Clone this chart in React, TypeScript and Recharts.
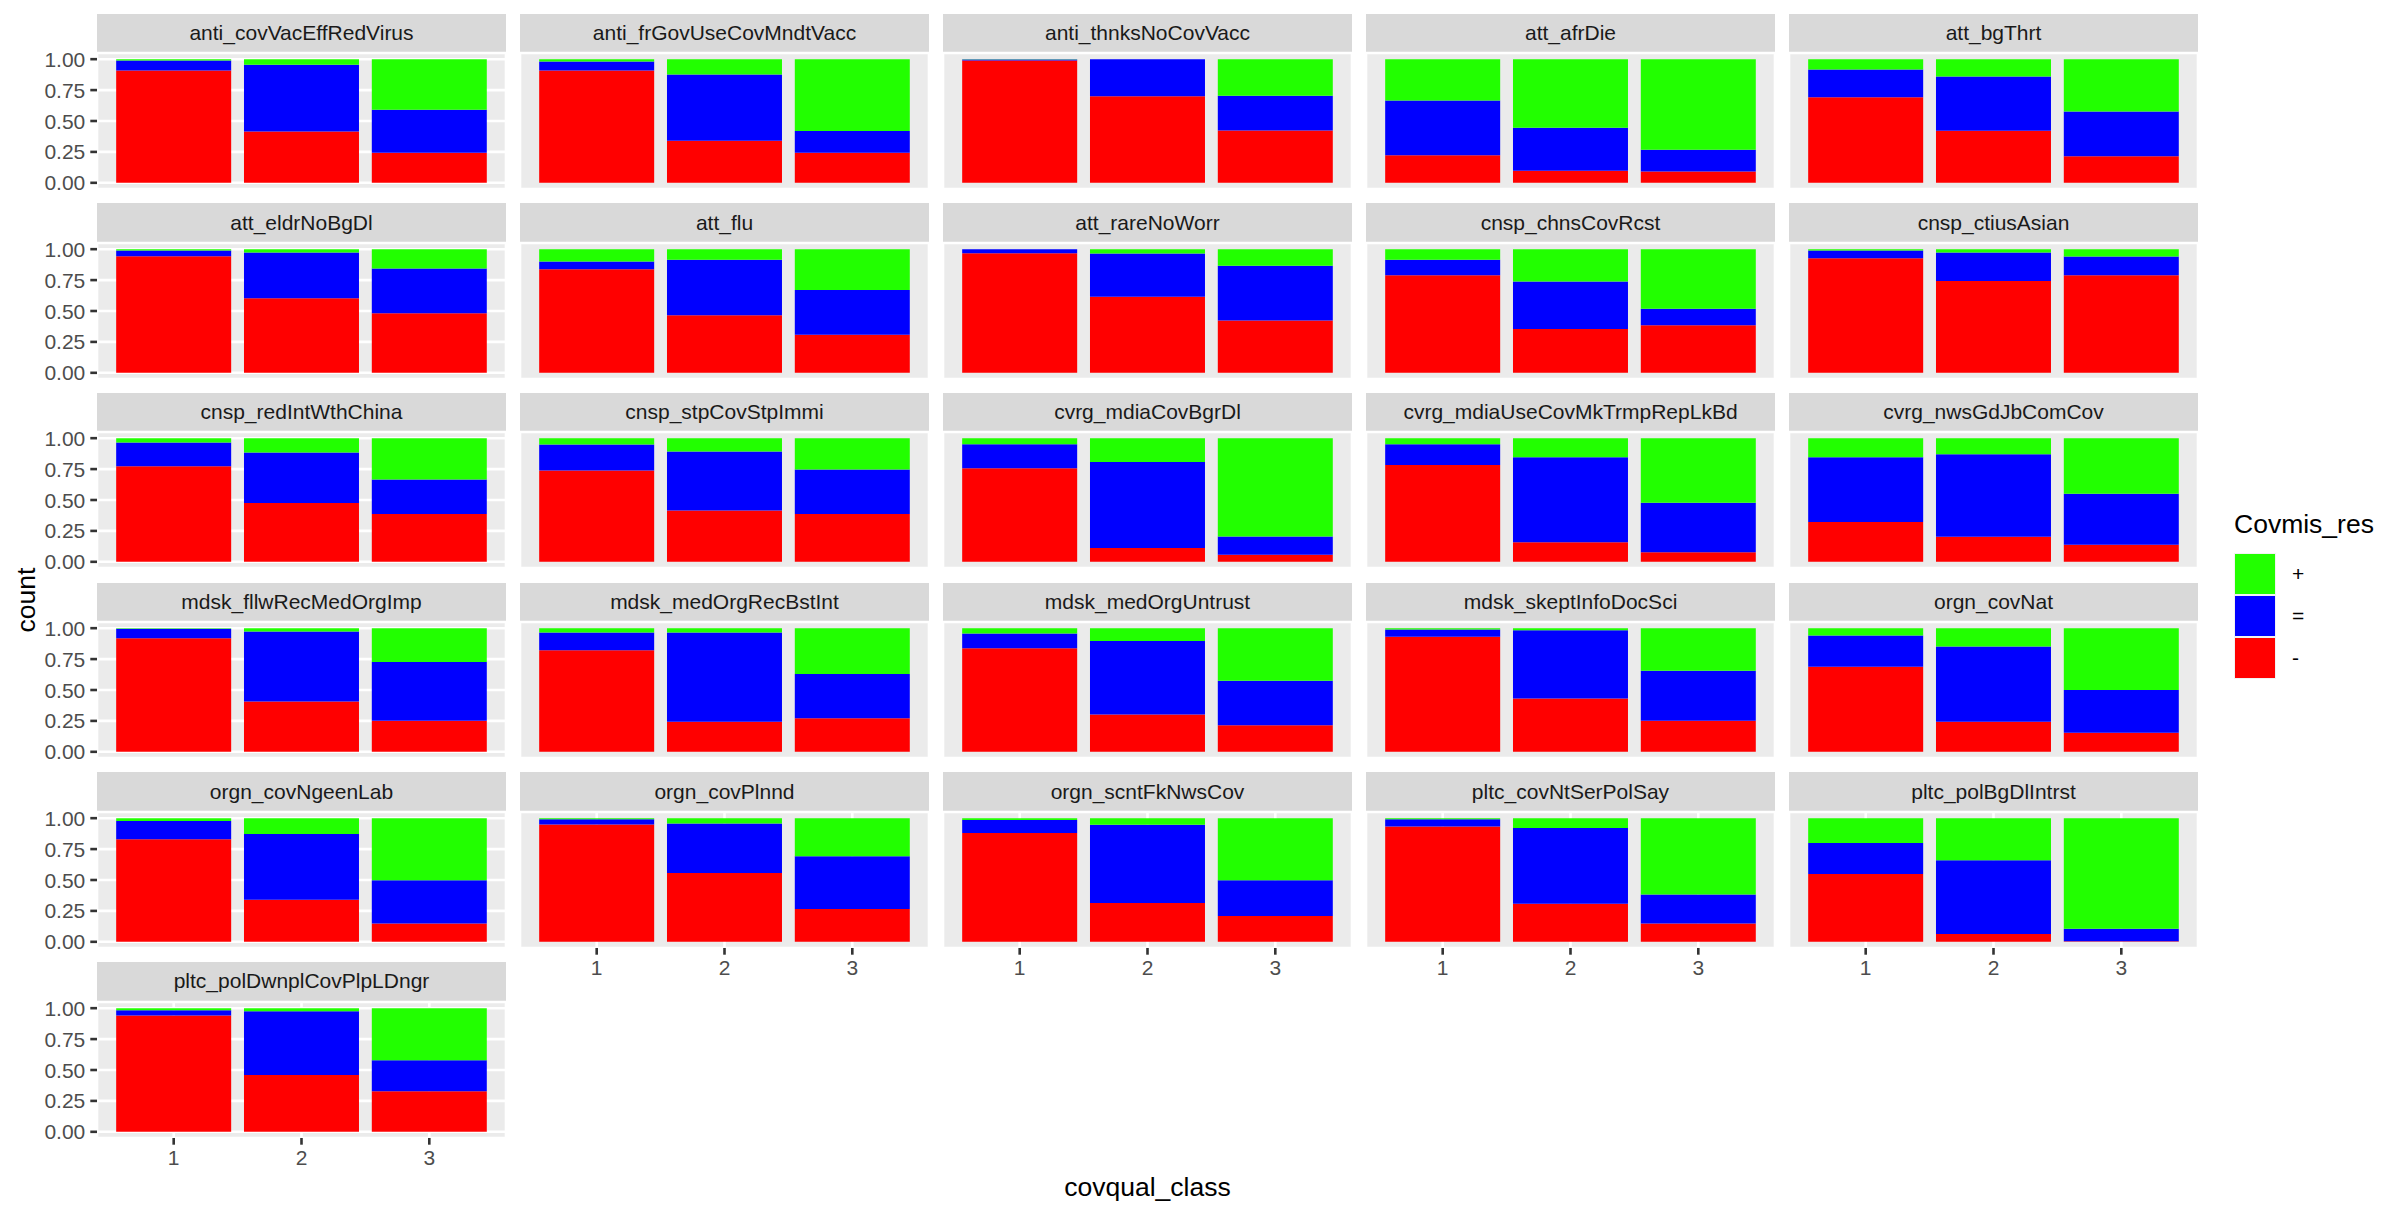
import React from "react";
import { BarChart, Bar, XAxis, YAxis, CartesianGrid } from "recharts";

// facet names, in facet_wrap order (5 columns)
const PANELS = [
  "anti_covVacEffRedVirus",
  "anti_frGovUseCovMndtVacc",
  "anti_thnksNoCovVacc",
  "att_afrDie",
  "att_bgThrt",
  "att_eldrNoBgDl",
  "att_flu",
  "att_rareNoWorr",
  "cnsp_chnsCovRcst",
  "cnsp_ctiusAsian",
  "cnsp_redIntWthChina",
  "cnsp_stpCovStpImmi",
  "cvrg_mdiaCovBgrDl",
  "cvrg_mdiaUseCovMkTrmpRepLkBd",
  "cvrg_nwsGdJbComCov",
  "mdsk_fllwRecMedOrgImp",
  "mdsk_medOrgRecBstInt",
  "mdsk_medOrgUntrust",
  "mdsk_skeptInfoDocSci",
  "orgn_covNat",
  "orgn_covNgeenLab",
  "orgn_covPlnnd",
  "orgn_scntFkNwsCov",
  "pltc_covNtSerPolSay",
  "pltc_polBgDlIntrst",
  "pltc_polDwnplCovPlpLDngr",
];

const CLASSES = ["1", "2", "3"];

// share of "-" per class 1,2,3
const MINUS = [
  [0.908, 0.416, 0.243],
  [0.908, 0.341, 0.243],
  [0.989, 0.7, 0.424],
  [0.222, 0.097, 0.092],
  [0.692, 0.422, 0.214],
  [0.943, 0.603, 0.481],
  [0.838, 0.465, 0.308],
  [0.968, 0.616, 0.424],
  [0.789, 0.354, 0.384],
  [0.927, 0.743, 0.789],
  [0.773, 0.476, 0.386],
  [0.738, 0.416, 0.386],
  [0.757, 0.111, 0.057],
  [0.784, 0.159, 0.078],
  [0.322, 0.203, 0.138],
  [0.919, 0.406, 0.252],
  [0.821, 0.244, 0.271],
  [0.837, 0.301, 0.214],
  [0.93, 0.431, 0.252],
  [0.688, 0.244, 0.154],
  [0.829, 0.34, 0.149],
  [0.948, 0.557, 0.266],
  [0.88, 0.313, 0.209],
  [0.932, 0.307, 0.149],
  [0.549, 0.063, 0.004],
  [0.94, 0.459, 0.329],
];

// share of "="
const EQUAL = [
  [0.081, 0.538, 0.349],
  [0.073, 0.535, 0.176],
  [0.008, 0.3, 0.281],
  [0.443, 0.349, 0.176],
  [0.224, 0.437, 0.362],
  [0.046, 0.37, 0.362],
  [0.062, 0.449, 0.362],
  [0.032, 0.349, 0.441],
  [0.125, 0.384, 0.135],
  [0.062, 0.23, 0.152],
  [0.192, 0.408, 0.279],
  [0.211, 0.476, 0.36],
  [0.194, 0.697, 0.148],
  [0.167, 0.687, 0.4],
  [0.524, 0.667, 0.413],
  [0.076, 0.567, 0.474],
  [0.144, 0.721, 0.358],
  [0.12, 0.596, 0.361],
  [0.059, 0.553, 0.404],
  [0.252, 0.607, 0.347],
  [0.149, 0.532, 0.348],
  [0.044, 0.4, 0.427],
  [0.106, 0.633, 0.288],
  [0.06, 0.614, 0.234],
  [0.25, 0.597, 0.102],
  [0.044, 0.517, 0.25],
];

// share of "+"
const PLUS = [
  [0.011, 0.046, 0.408],
  [0.019, 0.124, 0.581],
  [0.003, 0.0, 0.295],
  [0.335, 0.554, 0.732],
  [0.084, 0.141, 0.424],
  [0.011, 0.027, 0.157],
  [0.1, 0.086, 0.33],
  [0.0, 0.035, 0.135],
  [0.086, 0.262, 0.481],
  [0.011, 0.027, 0.059],
  [0.035, 0.116, 0.335],
  [0.051, 0.108, 0.254],
  [0.049, 0.192, 0.795],
  [0.049, 0.154, 0.522],
  [0.154, 0.13, 0.449],
  [0.005, 0.027, 0.274],
  [0.035, 0.035, 0.371],
  [0.043, 0.103, 0.425],
  [0.011, 0.016, 0.344],
  [0.06, 0.149, 0.499],
  [0.022, 0.128, 0.503],
  [0.008, 0.043, 0.307],
  [0.014, 0.054, 0.503],
  [0.008, 0.079, 0.617],
  [0.201, 0.34, 0.894],
  [0.016, 0.024, 0.421],
];

const Y_TICKS = [0, 0.25, 0.5, 0.75, 1];
const Y_MINOR = [0.125, 0.375, 0.625, 0.875];

// stacking order bottom -> top
const SERIES_KEYS = ["minus", "equal", "plus"];
const SERIES_LABELS: Record<string, string> = { minus: "-", equal: "=", plus: "+" };
const COLORS: Record<string, string> = { minus: "#FF0000", equal: "#0000FF", plus: "#22FF00" };

const FONT = '"Liberation Sans", Arial, Helvetica, sans-serif';
const NCOL = 5;
const LEFT0 = 97;
const PANEL_W = 409;
const COL_STEP = 423;
const TOP0 = 53;
const PANEL_H = 136;
const ROW_STEP = 189.7;
const STRIP_H = 39.5;
const YAXIS_W = 96;
const XAXIS_H = 40;
const VPAD = 12; // room so edge tick labels are not clipped by the svg
const XPAD = PANEL_W / 32; // ggplot discrete expansion: 0.6 units each side

// plain svg tick labels (no width-constrained Text)
function YTick(props: any) {
  const { x, y, payload } = props;
  return (
    <text x={x} y={y} textAnchor="end" dominantBaseline="central" fill="#4D4D4D" fontSize={21}>
      {Number(payload.value).toFixed(2)}
    </text>
  );
}

function XTick(props: any) {
  const { x, y, payload } = props;
  return (
    <text x={x} y={y} textAnchor="middle" dominantBaseline="hanging" fill="#4D4D4D" fontSize={21}>
      {payload.value}
    </text>
  );
}

function Panel({ idx }: { idx: number }) {
  const col = idx % NCOL;
  const row = Math.floor(idx / NCOL);
  const lastRow = Math.floor((PANELS.length - 1) / NCOL);
  const showY = col === 0;
  const showX = row === lastRow || (row === lastRow - 1 && col > (PANELS.length - 1) % NCOL);
  const left = LEFT0 + col * COL_STEP;
  const top = TOP0 + row * ROW_STEP;
  const yw = showY ? YAXIS_W : 0;
  const xh = showX ? XAXIS_H : 0;
  const bottomPad = showX ? 0 : VPAD;
  const data = CLASSES.map((c, i) => ({
    cls: c,
    minus: MINUS[idx][i],
    equal: EQUAL[idx][i],
    plus: PLUS[idx][i],
  }));

  return (
    <>
      <div
        style={{
          position: "absolute",
          left,
          top: top - STRIP_H,
          width: PANEL_W,
          height: STRIP_H - 0.8,
          background: "#D9D9D9",
          color: "#1A1A1A",
          fontSize: 21,
          display: "flex",
          alignItems: "center",
          justifyContent: "center",
        }}
      >
        {PANELS[idx]}
      </div>
      <div style={{ position: "absolute", left: left - yw, top: top - VPAD }}>
        <BarChart
          width={PANEL_W + yw}
          height={PANEL_H + VPAD + bottomPad + xh}
          data={data}
          margin={{ top: VPAD, right: 0, bottom: bottomPad, left: 0 }}
          barCategoryGap="5%"
        >
          <CartesianGrid yAxisId="minor" fill="#EBEBEB" fillOpacity={1} stroke="#FFFFFF" strokeWidth={1.3} vertical={false} />
          <CartesianGrid stroke="#FFFFFF" strokeWidth={2.6} />
          <XAxis
            dataKey="cls"
            interval={0}
            padding={{ left: XPAD, right: XPAD }}
            height={xh}
            axisLine={false}
            tick={showX ? <XTick /> : false}
            tickLine={showX ? { stroke: "#333333", strokeWidth: 2.6 } : false}
            tickSize={6.7}
            tickMargin={5}
          />
          <YAxis
            type="number"
            domain={[-0.05, 1.05]}
            allowDataOverflow
            ticks={Y_TICKS}
            interval={0}
            width={yw}
            axisLine={false}
            tick={showY ? <YTick /> : false}
            tickLine={showY ? { stroke: "#333333", strokeWidth: 2.6 } : false}
            tickSize={6.7}
            tickMargin={5}
          />
          <YAxis
            yAxisId="minor"
            type="number"
            domain={[-0.05, 1.05]}
            allowDataOverflow
            ticks={Y_MINOR}
            interval={0}
            width={0}
            axisLine={false}
            tick={false}
            tickLine={false}
          />
          {SERIES_KEYS.map((k) => (
            <Bar key={k} dataKey={k} stackId="s" fill={COLORS[k]} isAnimationActive={false} />
          ))}
        </BarChart>
      </div>
    </>
  );
}

export default function App() {
  const legendKeys = [...SERIES_KEYS].reverse();
  return (
    <div
      style={{
        position: "absolute",
        left: 0,
        top: 0,
        width: 2399,
        height: 1213,
        background: "#FFFFFF",
        fontFamily: FONT,
        overflow: "hidden",
      }}
    >
      {PANELS.map((_, i) => (
        <Panel key={i} idx={i} />
      ))}

      <div
        style={{
          position: "absolute",
          left: 26,
          top: 600,
          transform: "translate(-50%, -50%) rotate(-90deg)",
          fontSize: 26.5,
          color: "#000000",
          whiteSpace: "nowrap",
        }}
      >
        count
      </div>
      <div
        style={{
          position: "absolute",
          left: LEFT0 + (4 * COL_STEP + PANEL_W) / 2,
          top: 1187,
          transform: "translate(-50%, -50%)",
          fontSize: 26.5,
          color: "#000000",
          whiteSpace: "nowrap",
        }}
      >
        covqual_class
      </div>

      <div style={{ position: "absolute", left: 2234, top: 509, fontSize: 26.5, color: "#000000" }}>
        Covmis_res
      </div>
      {legendKeys.map((k, i) => (
        <div key={k}>
          <div
            style={{
              position: "absolute",
              left: 2234,
              top: 553 + i * 42,
              width: 42,
              height: 42,
              background: "#F2F2F2",
            }}
          >
            <div style={{ position: "absolute", left: 1, top: 1, width: 40, height: 40, background: COLORS[k] }} />
          </div>
          <div
            style={{
              position: "absolute",
              left: 2292,
              top: 574 + i * 42,
              transform: "translateY(-50%)",
              fontSize: 21,
              color: "#000000",
            }}
          >
            {SERIES_LABELS[k]}
          </div>
        </div>
      ))}
    </div>
  );
}
